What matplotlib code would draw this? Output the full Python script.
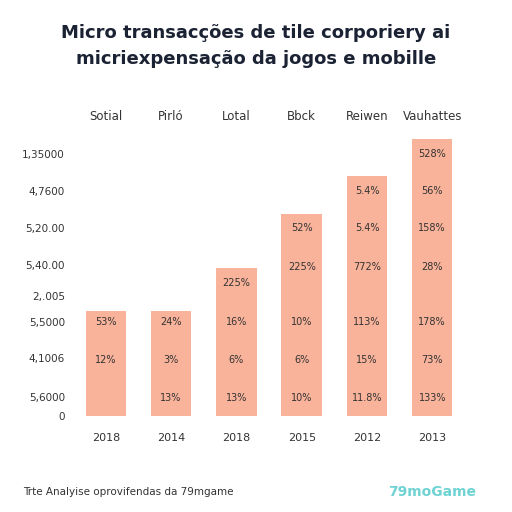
import matplotlib.pyplot as plt

years = ["2018", "2014", "2018", "2015", "2012", "2013"]
categories = ["Sotial", "Pirló", "Lotal", "Bbck", "Reiwen", "Vauhattes"]
heights = [105, 105, 148, 202, 240, 277]
ytick_vals = [0, 19, 58, 94, 120, 151, 188, 225, 262]
ytick_labels = ["0", "5,6000", "4,1006", "5,5000", "2,.005", "5,40.00",
                "5,20.00", "4,7600", "1,35000"]
label_rows = [262, 225, 188, 149, 133, 94, 56, 18]
bar_labels = [
    ["", "", "", "", "", "53%", "12%", ""],
    ["", "", "", "", "", "24%", "3%", "13%"],
    ["", "", "", "", "225%", "16%", "6%", "13%"],
    ["", "", "52%", "225%", "", "10%", "6%", "10%"],
    ["", "5.4%", "5.4%", "772%", "", "113%", "15%", "11.8%"],
    ["528%", "56%", "158%", "28%", "", "178%", "73%", "133%"],
]

BAR = "#f9b39a"
TXT = "#333333"

fig = plt.figure(figsize=(5.12, 5.12), dpi=100)
ax = fig.add_axes([0.143, 0.1875, 0.765, 0.5586])
x = range(len(years))
ax.bar(x, heights, width=0.62, color=BAR)
ax.set_xlim(-0.5, 5.5)
ax.set_ylim(0, 286)
for s in ax.spines.values():
    s.set_visible(False)
ax.set_xticks(list(x))
ax.set_xticklabels(years, fontsize=8, color=TXT)
ax.set_yticks(ytick_vals)
ax.set_yticklabels(ytick_labels, fontsize=7.5, color=TXT)
ax.tick_params(axis="x", length=0, pad=12)
ax.tick_params(axis="y", length=0, pad=6)

for i, labs in enumerate(bar_labels):
    for yv, t in zip(label_rows, labs):
        if t:
            ax.text(i, yv, t, ha="center", va="center", fontsize=7, color=TXT)
    ax.text(i, 299, categories[i], ha="center", va="center", fontsize=8.5,
            color=TXT, clip_on=False)

fig.text(0.5, 0.935, "Micro transacções de tile corporiery ai", ha="center",
         va="center", fontsize=13, fontweight="bold", color="#1a2233")
fig.text(0.5, 0.885, "micriexpensação da jogos e mobille", ha="center",
         va="center", fontsize=13, fontweight="bold", color="#1a2233")
fig.text(0.045, 0.04, "Trte Analyise oprovifendas da 79mgame", fontsize=7.5,
         color=TXT, va="center")
fig.text(0.93, 0.04, "79moGame", fontsize=10, color="#6fd3d3",
         fontweight="bold", ha="right", va="center")

fig.savefig("out.png", dpi=100)
